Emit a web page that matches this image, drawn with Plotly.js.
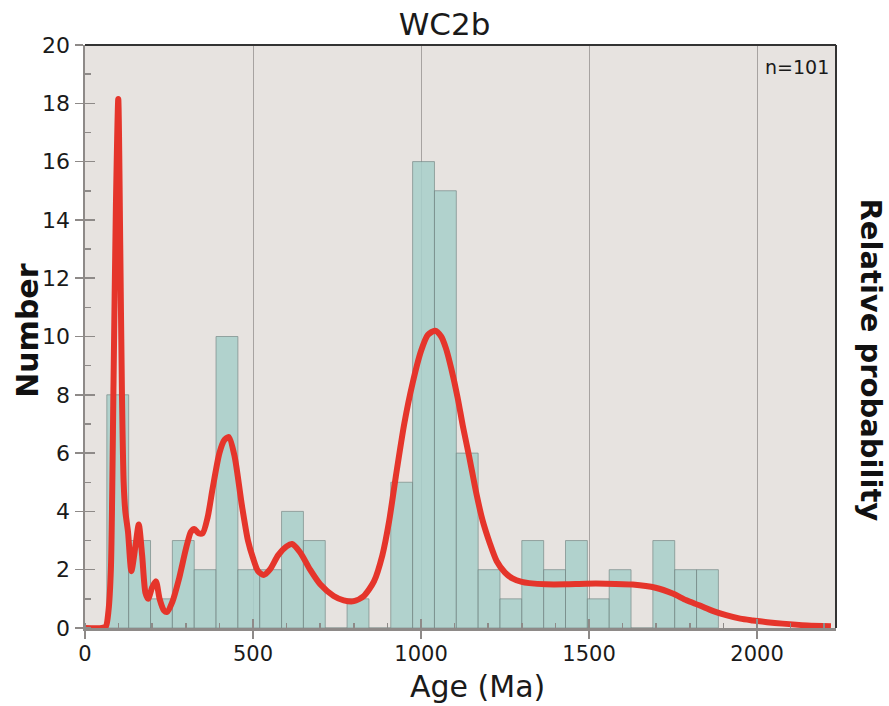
<!DOCTYPE html>
<html>
<head>
<meta charset="utf-8">
<script src="https://cdn.plot.ly/plotly-3.0.1.min.js"></script>
<style>html,body{margin:0;padding:0;background:#fff;}#chart{width:889px;height:706px;}</style>
</head>
<body>
<div id="chart"></div>
<script>
// Histogram bins (left edge, Ma) and counts
const binWidth = 65;
const binStart = [65,130,195,260,325,390,455,520,585,650,715,780,845,910,975,1040,1105,1170,1235,1300,1365,1430,1495,1560,1625,1690,1755,1820];
const binCount = [8,3,1,3,2,10,2,2,4,3,0,1,0,5,16,15,6,2,1,3,2,3,1,2,0,3,2,2];

// Relative probability curve (scaled to Number axis)
const probAge = [0,50,62,70,77,85,92,99,105,110,115,120,128,138,150,160,170,180,188,200,211,222,235,244,260,280,300,315,325,338,350,365,380,400,415,428,445,467,485,500,515,532,550,575,600,616,640,670,700,740,770,800,830,860,885,905,925,950,975,1000,1020,1042,1060,1074,1090,1109,1125,1143,1165,1183,1205,1225,1250,1272,1300,1322,1372,1430,1490,1550,1630,1698,1749,1790,1828,1870,1908,1950,1987,2030,2076,2150,2220];
const probVal = [0,0,0.05,0.6,2.0,8.5,14.5,18.15,13,8,5,4.0,3.3,1.95,2.8,3.55,2.5,1.2,1.0,1.4,1.6,1.0,0.6,0.55,0.9,1.7,2.7,3.3,3.4,3.25,3.25,3.8,4.8,6.0,6.45,6.55,5.9,4.2,3.0,2.4,1.95,1.82,2.0,2.5,2.8,2.88,2.6,2.0,1.5,1.1,0.95,0.92,1.1,1.6,2.5,3.66,5.2,7.0,8.4,9.5,10.05,10.2,10.0,9.6,8.9,7.9,6.9,5.9,4.6,3.7,2.9,2.3,1.9,1.7,1.58,1.54,1.5,1.5,1.52,1.52,1.49,1.38,1.18,0.95,0.78,0.58,0.44,0.32,0.26,0.2,0.15,0.09,0.06];

const xTickVals = [0,500,1000,1500,2000];
const yTickVals = [0,2,4,6,8,10,12,14,16,18,20];

const FONT = 'DejaVu Sans, sans-serif';
const AXGRAY = '#8e8a88';

const bars = {
  type: 'bar',
  x: binStart.map(s => s + binWidth / 2),
  y: binCount,
  width: binWidth,
  marker: {color: 'rgb(169,208,203)', opacity: 0.86, line: {color: 'rgba(110,130,127,0.75)', width: 1}},
  xaxis: 'x', yaxis: 'y',
  hoverinfo: 'x+y'
};

const curve = {
  type: 'scatter', mode: 'lines',
  x: probAge, y: probVal,
  line: {color: '#e5352b', width: 6, shape: 'spline', smoothing: 0.7},
  xaxis: 'x2', yaxis: 'y2'
};

const layout = {
  width: 889, height: 706,
  margin: {l: 85, r: 53, t: 45, b: 78},
  paper_bgcolor: '#ffffff',
  plot_bgcolor: '#e7e3e0',
  showlegend: false,
  bargap: 0,
  font: {family: FONT, color: '#1a1a1a'},
  title: {text: 'WC2b', font: {family: FONT, size: 31, color: '#1a1a1a'}, x: 0.5, xref: 'container', y: 0.966, yref: 'container', yanchor: 'middle'},
  xaxis: {
    range: [0, 2235], tickvals: xTickVals, ticks: 'outside', ticklen: 8, tickwidth: 1.5, tickcolor: AXGRAY,
    ticklabelstandoff: -3,
    showgrid: true, gridcolor: '#a7a3a1', gridwidth: 1,
    minor: {dtick: 100, tick0: 0, ticks: 'inside', ticklen: 5, tickwidth: 1.5, tickcolor: AXGRAY, showgrid: false},
    showline: true, linecolor: AXGRAY, linewidth: 2.5, zeroline: false,
    tickfont: {family: FONT, size: 21, color: '#1a1a1a'}, fixedrange: true
  },
  yaxis: {
    range: [0, 20], tickvals: yTickVals, ticks: 'outside', ticklen: 8, tickwidth: 1.5, tickcolor: AXGRAY,
    showgrid: false,
    minor: {dtick: 1, tick0: 0, ticks: 'inside', ticklen: 6, tickwidth: 1.5, tickcolor: AXGRAY, showgrid: false},
    showline: true, linecolor: AXGRAY, linewidth: 2.5, zeroline: false,
    tickfont: {family: FONT, size: 22, color: '#1a1a1a'}, fixedrange: true
  },
  xaxis2: {
    overlaying: 'x', matches: 'x', side: 'bottom', anchor: 'y2',
    tickvals: xTickVals, ticks: 'inside', ticklen: 9, tickwidth: 1.5, tickcolor: AXGRAY,
    showticklabels: false, showgrid: false, showline: false, zeroline: false, fixedrange: true
  },
  yaxis2: {
    overlaying: 'y', matches: 'y', side: 'left', anchor: 'x2',
    tickvals: yTickVals, ticks: 'inside', ticklen: 10, tickwidth: 1.5, tickcolor: AXGRAY,
    showticklabels: false, showgrid: false, showline: false, zeroline: false, fixedrange: true
  },
  shapes: [
    {type: 'line', xref: 'paper', yref: 'paper', x0: 0, x1: 1, y0: 1, y1: 1, line: {color: '#333333', width: 2}},
    {type: 'line', xref: 'paper', yref: 'paper', x0: 1, x1: 1, y0: 0, y1: 1, line: {color: '#333333', width: 2}}
  ],
  annotations: [
    {text: 'Age (Ma)', xref: 'paper', yref: 'paper', x: 0.523, y: -0.1, xanchor: 'center', yanchor: 'middle', showarrow: false,
     font: {family: FONT, size: 30, color: '#1a1a1a'}},
    {text: '<b>Number</b>', xref: 'paper', yref: 'paper', x: -0.077, y: 0.51, xanchor: 'center', yanchor: 'middle', textangle: -90, showarrow: false,
     font: {family: FONT, size: 30, color: '#111111'}},
    {text: '<b>Relative probability</b>', xref: 'paper', yref: 'paper', x: 1.047, y: 0.46, xanchor: 'center', yanchor: 'middle', textangle: 90, showarrow: false,
     font: {family: FONT, size: 29, color: '#111111'}},
    {text: 'n=101', xref: 'paper', yref: 'paper', x: 0.993, y: 0.962, xanchor: 'right', yanchor: 'middle', showarrow: false,
     font: {family: FONT, size: 19, color: '#1a1a1a'}}
  ]
};

Plotly.newPlot('chart', [bars, curve], layout, {displayModeBar: false, staticPlot: true});
</script>
</body>
</html>
